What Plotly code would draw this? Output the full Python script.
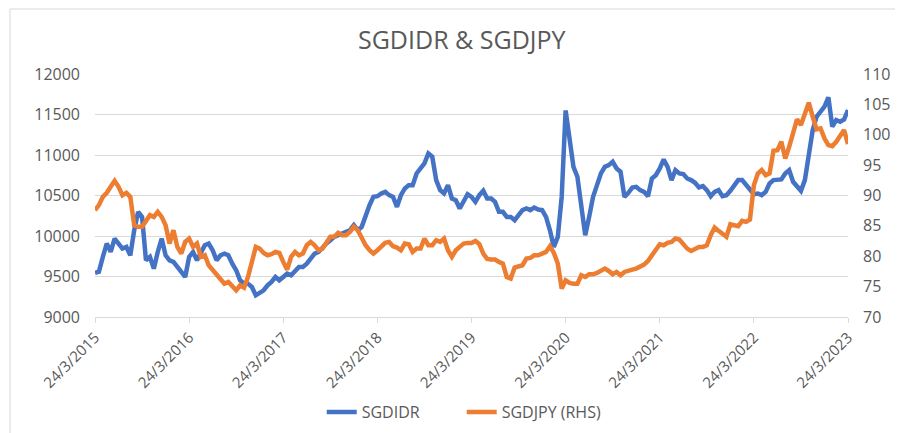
import pandas as pd
import plotly.graph_objects as go

# semi-monthly observation dates, 24/3/2015 .. 24/3/2023
dates = pd.date_range("2015-03-24", "2023-03-24", periods=193)

sgdidr = [
    9544, 9560, 9742, 9907, 9804, 9968, 9907, 9845, 9865, 9762,
    10071, 10298, 10236, 9700, 9742, 9597, 9803, 9968, 9762, 9700,
    9680, 9618, 9556, 9494, 9742, 9803, 9700, 9783, 9886, 9907,
    9824, 9700, 9762, 9783, 9762, 9659, 9577, 9453, 9412, 9412,
    9371, 9268, 9297, 9330, 9391, 9433, 9494, 9453, 9494, 9536,
    9515, 9577, 9618, 9618, 9659, 9721, 9783, 9803, 9865, 9907,
    9948, 9989, 10010, 10030, 10050, 10071, 10133, 10071, 10113, 10257,
    10380, 10483, 10491, 10525, 10545, 10504, 10483, 10360, 10504, 10587,
    10628, 10628, 10772, 10834, 10896, 11019, 10978, 10690, 10566, 10525,
    10628, 10463, 10442, 10339, 10442, 10516, 10483, 10422, 10504, 10558,
    10463, 10463, 10422, 10298, 10298, 10236, 10236, 10195, 10257, 10319,
    10339, 10319, 10352, 10327, 10319, 10236, 10071, 9865, 9989, 10483,
    11550, 11225, 10854, 10731, 10401, 10010, 10236, 10483, 10628, 10772,
    10854, 10875, 10916, 10834, 10793, 10483, 10532, 10599, 10607, 10566,
    10545, 10491, 10710, 10751, 10834, 10945, 10854, 10690, 10813, 10772,
    10764, 10710, 10690, 10657, 10599, 10615, 10566, 10491, 10545, 10566,
    10491, 10504, 10558, 10615, 10690, 10690, 10628, 10566, 10516, 10525,
    10504, 10545, 10648, 10690, 10698, 10698, 10772, 10813, 10669, 10607,
    10558, 10690, 11040, 11308, 11473, 11534, 11596, 11712, 11349, 11431,
    11411, 11440, 11555,
]

sgdjpy = [
    87.58, 88.41, 89.78, 90.44, 91.43, 92.42, 91.43, 90.05, 90.44, 89.78,
    85.11, 84.84, 84.84, 85.93, 86.76, 86.48, 87.31, 86.48, 85.11, 82.09,
    84.29, 81.54, 80.44, 82.36, 82.91, 81.54, 82.09, 79.89, 80.16, 78.52,
    77.69, 77.14, 76.04, 75.49, 75.77, 74.95, 74.40, 75.22, 74.83, 76.59,
    79.34, 81.54, 81.26, 80.55, 80.16, 80.33, 80.71, 80.55, 79.07, 77.80,
    79.89, 80.71, 80.16, 80.44, 81.81, 82.36, 81.81, 80.99, 81.26, 82.36,
    83.19, 83.19, 83.85, 83.46, 83.46, 84.01, 84.84, 84.29, 82.91, 81.81,
    80.99, 80.44, 80.99, 81.54, 82.20, 82.36, 81.65, 81.43, 80.99, 82.09,
    81.98, 80.71, 81.26, 81.26, 82.91, 81.81, 81.81, 82.64, 82.36, 82.91,
    80.99, 79.89, 80.99, 81.54, 82.09, 82.20, 82.20, 82.53, 81.98, 80.44,
    79.56, 79.45, 79.45, 79.07, 78.79, 76.59, 76.32, 78.13, 78.24, 78.52,
    79.62, 79.73, 80.16, 80.16, 80.44, 80.71, 81.65, 80.55, 78.79, 74.67,
    76.04, 75.60, 75.49, 75.49, 76.87, 76.59, 77.03, 77.03, 77.25, 77.58,
    77.97, 77.58, 77.03, 77.42, 76.87, 77.42, 77.69, 77.80, 77.97, 78.24,
    78.63, 79.23, 80.16, 80.99, 81.98, 81.81, 82.20, 82.36, 82.91, 82.75,
    82.09, 81.26, 80.88, 81.26, 81.54, 81.54, 81.81, 83.46, 84.73, 84.18,
    83.74, 83.19, 85.27, 85.11, 84.94, 85.82, 85.66, 86.04, 91.70, 93.63,
    94.18, 93.35, 93.63, 97.36, 97.47, 98.85, 96.10, 98.02, 100.22, 102.53,
    101.59, 103.52, 105.27, 102.97, 100.88, 101.04, 99.40, 98.30, 98.13, 98.85,
    99.94, 100.77, 98.46,
]

tick_dates = [f"{y}-03-24" for y in range(2015, 2024)]
tick_text = [f"24/3/{y}" for y in range(2015, 2024)]

FONT = "Open Sans"
GREY = "#595959"

fig = go.Figure()
fig.add_trace(go.Scatter(x=dates, y=sgdidr, name="SGDIDR", mode="lines",
                         line=dict(color="#4472C4", width=4.5)))
fig.add_trace(go.Scatter(x=dates, y=sgdjpy, name="SGDJPY (RHS)", mode="lines",
                         yaxis="y2", line=dict(color="#ED7D31", width=4.5)))

fig.update_layout(
    width=895, height=425,
    margin=dict(l=87, r=55, t=66, b=116, autoexpand=False),
    paper_bgcolor="white", plot_bgcolor="white",
    font=dict(family=FONT, color=GREY, size=15),
    title=dict(text="SGDIDR & SGDJPY", x=0.507, xanchor="center",
               y=0.9247, yanchor="middle",
               font=dict(family=FONT, size=25, color=GREY)),
    xaxis=dict(type="date", range=["2015-03-24", "2023-03-24"],
               tickvals=tick_dates, ticktext=tick_text, tickangle=-45,
               showgrid=False, showline=True, linecolor="#D9D9D9", linewidth=1,
               ticks="outside", ticklen=5, tickcolor="#D9D9D9",
               tickfont=dict(size=15, color=GREY), zeroline=False),
    yaxis=dict(range=[9000, 12000], dtick=500, tickformat="d", showgrid=True,
               gridcolor="#D9D9D9", gridwidth=1, zeroline=False,
               showline=False, ticks="", ticklen=0, ticklabelstandoff=14,
               tickfont=dict(size=16, color=GREY)),
    yaxis2=dict(range=[70, 110], dtick=5, tickformat="d", overlaying="y",
                side="right", showgrid=False, zeroline=False, showline=False,
                ticklabelstandoff=14,
                tickfont=dict(size=16, color=GREY)),
    legend=dict(orientation="h", x=0.487, xanchor="center", y=-0.391,
                yanchor="middle", font=dict(size=16, color=GREY),
                entrywidth=95, bgcolor="rgba(0,0,0,0)"),
    showlegend=True,
)

fig.add_shape(type="rect", xref="paper", yref="paper",
              x0=-0.1129, x1=1.2, y0=-0.6, y1=1.2675,
              line=dict(color="#D9D9D9", width=1), fillcolor="rgba(0,0,0,0)",
              layer="below")

fig.write_html("out.html")
